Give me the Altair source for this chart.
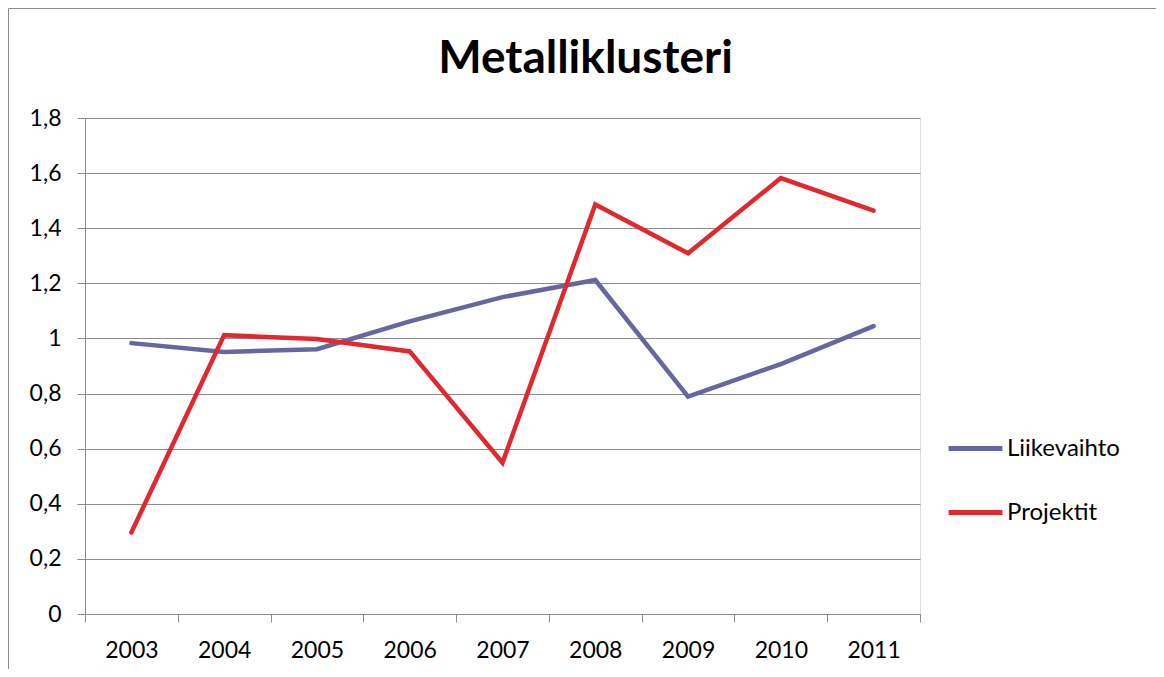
import altair as alt
import pandas as pd

years = [2003, 2004, 2005, 2006, 2007, 2008, 2009, 2010, 2011]
liikevaihto = [0.983, 0.951, 0.961, 1.062, 1.150, 1.212, 0.789, 0.907, 1.045]
projektit = [0.296, 1.012, 0.998, 0.953, 0.549, 1.486, 1.309, 1.582, 1.464]
series_names = ["Liikevaihto", "Projektit"]
series_colors = ["#6667A1", "#E0282F"]
y_ticks = [0, 0.2, 0.4, 0.6, 0.8, 1.0, 1.2, 1.4, 1.6, 1.8]
x_ticks = [2002.5, 2003.5, 2004.5, 2005.5, 2006.5, 2007.5, 2008.5, 2009.5, 2010.5, 2011.5]

rows = []
for name, vals in zip(series_names, [liikevaihto, projektit]):
    for y, v in zip(years, vals):
        rows.append({"Vuosi": y, "Arvo": v, "Sarja": name})
df = pd.DataFrame(rows)

FONT = "Lato"
W, H = 835, 496

lines = alt.Chart(df).mark_line(strokeWidth=4.5, strokeCap="round", strokeJoin="miter").encode(
    x=alt.X("Vuosi:Q",
            scale=alt.Scale(domain=[2002.5, 2011.5], nice=False, zero=False),
            axis=alt.Axis(values=x_ticks, title=None, grid=False,
                          labelExpr="datum.value > 2011 ? '' : toString(datum.value + 0.5)",
                          labelOffset=W / 18, labelFont=FONT, labelFontSize=23,
                          labelColor="#000000", labelPadding=17,
                          tickSize=8, tickColor="#8c8c8c", domainColor="#8c8c8c",
                          labelFlush=False, labelOverlap=False)),
    y=alt.Y("Arvo:Q",
            scale=alt.Scale(domain=[0, 1.8], nice=False),
            axis=alt.Axis(values=y_ticks, title=None,
                          labelExpr="replace(format(datum.value, '.1~f'), '.', ',')",
                          labelFont=FONT, labelFontSize=23, labelColor="#000000",
                          labelPadding=16, tickSize=8, tickColor="#8c8c8c",
                          domainColor="#8c8c8c", gridColor="#8c8c8c", gridWidth=1)),
    color=alt.Color("Sarja:N",
                    scale=alt.Scale(domain=series_names, range=series_colors),
                    legend=alt.Legend(title=None, orient="none", legendX=861, legendY=301,
                                      symbolType="M-1,0H1", symbolSize=2900,
                                      symbolStrokeWidth=5, labelFont=FONT, labelFontSize=24,
                                      labelColor="#000000", labelOffset=2, rowPadding=22,
                                      labelLimit=300)),
)

frame = alt.Chart(pd.DataFrame({"k": [0]})).mark_rule(color="#8c8c8c", strokeWidth=1).encode(
    x=alt.value(-76.5), x2=alt.value(1074.5), y=alt.value(-109.5)
)
frame_l = alt.Chart(pd.DataFrame({"k": [0]})).mark_rule(color="#8c8c8c", strokeWidth=1).encode(
    x=alt.value(-76.5), y=alt.value(-109.5), y2=alt.value(560)
)
frame_r = alt.Chart(pd.DataFrame({"k": [0]})).mark_rule(color="#8c8c8c", strokeWidth=1).encode(
    x=alt.value(1074.5), y=alt.value(-109.5), y2=alt.value(560)
)

chart = alt.layer(lines, frame, frame_l, frame_r).properties(
    width=W, height=H,
    title=alt.TitleParams("Metalliklusteri", font=FONT, fontSize=46, fontWeight="bold",
                          color="#000000", anchor="middle", dx=83, offset=-75),
    autosize=alt.AutoSizeParams(type="none"),
    padding={"left": 77, "top": 110, "right": 236, "bottom": 55},
).configure_view(stroke=None).configure(background="#ffffff")

chart.save("out.html", embed_options={"renderer": "svg", "actions": False})
